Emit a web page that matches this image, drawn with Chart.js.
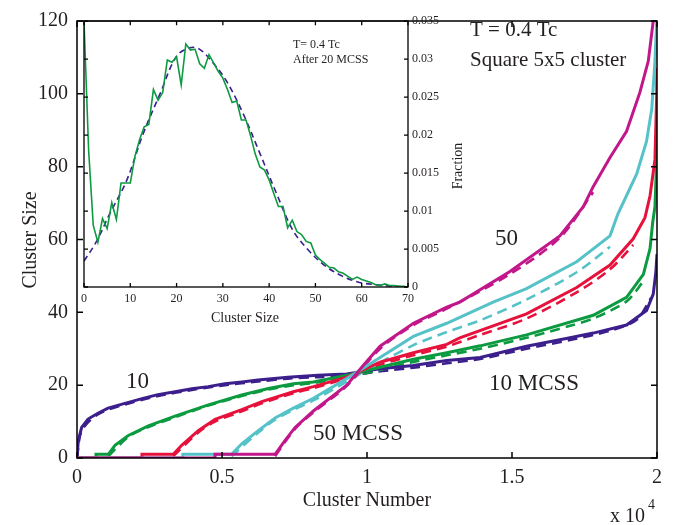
<!DOCTYPE html>
<html lang="en">
<head>
<meta charset="UTF-8">
<title>Cluster Size vs Cluster Number</title>
<script src="https://cdn.jsdelivr.net/npm/chart.js"></script>
<style>
  body { margin: 0; background: #fff; }
  #wrap { position: relative; width: 683px; height: 525px; }
  #main { position: absolute; left: 0; top: 0; }
  #inset { position: absolute; left: 70px; top: 10px; }
</style>
</head>
<body>
<div id="wrap">
  <canvas id="main" width="683" height="525"></canvas>
  <canvas id="inset" width="400" height="330"></canvas>
</div>
<script>
// ---- main chart data: cluster number (x) vs cluster size (y) ----
const purpleN = [0, 45, 160, 380, 720, 1070, 1650, 2240, 2790, 3380, 3960, 4520, 5100, 5690, 6240, 7270, 8300, 9300, 10450, 11590, 12750, 13900, 15500, 17000, 17800, 18950, 19640, 19870, 19960, 20000];
const purpleS = [0, 4.8, 8.4, 10.7, 12.3, 13.7, 15, 16.3, 17.4, 18.2, 19, 19.6, 20.4, 20.9, 21.4, 22.2, 22.7, 23.1, 24.5, 25.4, 26.8, 27.6, 30.7, 33, 34.3, 36.5, 40.5, 45, 51, 56];
const greenN = [0, 655, 655, 1080, 1310, 1770, 2460, 3380, 4530, 5680, 6600, 7460, 8150, 9300, 10450, 11600, 12750, 13900, 15500, 17800, 18950, 19530, 19760, 19850, 19930, 19980, 20000];
const greenS = [0, 0, 1, 1, 3.5, 6.2, 8.8, 11.5, 14.6, 17.3, 19.1, 20.4, 20.9, 22.7, 24.9, 27.1, 28.9, 30.8, 33.8, 39.2, 44.1, 50.4, 57.5, 64.6, 69, 80, 93];
const redN = [0, 2240, 2240, 3320, 3610, 4180, 4760, 5680, 6370, 7460, 8150, 9300, 10450, 11600, 12750, 13200, 15500, 17230, 18380, 19180, 19585, 19760, 19930, 19990, 20000];
const redS = [0, 0, 1, 1, 3.5, 7.5, 10.6, 13.3, 15.5, 18.2, 19.6, 22.2, 26.3, 28.9, 31.2, 33, 39.6, 46.8, 53, 60.2, 66, 72, 82, 100, 107];
const cyanN = [0, 3650, 3650, 5330, 5680, 6250, 6830, 7460, 8150, 9300, 10450, 11600, 12750, 13200, 14350, 15500, 17230, 18380, 18650, 19300, 19640, 19820, 19930, 19990];
const cyanS = [0, 0, 1, 1, 3.9, 7.5, 11, 13.7, 16.4, 21.8, 27.6, 33.4, 37, 38.6, 42.8, 46.5, 53.9, 61, 67, 78, 87, 95.9, 109, 120];
const magentaN = [0, 4760, 4760, 6830, 7170, 7520, 8150, 9300, 9870, 10450, 11600, 12750, 13200, 14930, 16650, 17460, 17800, 18380, 18950, 19410, 19700, 19870];
const magentaS = [0, 0, 1, 1, 4.8, 8.4, 12.9, 20, 25.4, 30.7, 37, 41.4, 42.8, 51.2, 61, 69, 74.5, 82.5, 89.7, 100.4, 109, 120];

// dashed fits
const purpleFitN = [0, 160, 720, 1650, 2790, 3960, 5100, 6240, 7270, 8300, 9300, 10450, 11600, 12750, 13900, 15500, 17000, 18400, 19300, 19800];
const purpleFitS = [0, 7.5, 12, 14.7, 17, 18.7, 20, 21, 21.8, 22.2, 22.6, 23.8, 24.8, 26, 27.2, 30, 32.4, 35, 38, 44];
const greenFitN = [1080, 1770, 2460, 3380, 4530, 5680, 6600, 7460, 8150, 9300, 10450, 11600, 12750, 13900, 15500, 17000, 17800, 18950, 19530];
const greenFitS = [0.5, 5.8, 8.5, 11.2, 14.4, 17, 18.8, 20, 20.6, 22.2, 24.2, 26.4, 28.2, 30, 33, 36.3, 38.3, 43, 48.5];
const redFitN = [3320, 4180, 4760, 5680, 6370, 7460, 8150, 9300, 10450, 11600, 12750, 13900, 15500, 17230, 18380, 19180];
const redFitS = [0.5, 7, 10, 12.8, 15, 17.8, 19.2, 22, 25.6, 28.2, 30.6, 33.8, 38.3, 45.5, 51.8, 58.5];
const cyanFitN = [5330, 6250, 6830, 7460, 8150, 9300, 10450, 11600, 12750, 13900, 15500, 17230, 18380];
const cyanFitS = [0.5, 7, 10.5, 13.2, 15.8, 21, 26.2, 31, 34.6, 37.8, 43.5, 51, 58];
const magentaFitN = [6830, 7520, 8150, 9300, 10450, 11600, 12750, 14930, 16650, 17800];
const magentaFitS = [0.5, 8, 12.5, 19.8, 30, 36.5, 41, 50.5, 60.5, 73];

// ---- inset data: fraction vs cluster size after 20 MCSS ----
const insetSize = [];
for (let i = 0; i <= 70; i++) insetSize.push(i);
const insetFrac = [0.035, 0.018, 0.0081, 0.0059, 0.009, 0.0077, 0.0111, 0.0089, 0.0137, 0.0137,
  0.0137, 0.0172, 0.0194, 0.0211, 0.0214, 0.026, 0.0246, 0.0256, 0.0299, 0.0296,
  0.0303, 0.0266, 0.032, 0.0312, 0.0313, 0.0294, 0.0288, 0.0306, 0.0295, 0.0284,
  0.0275, 0.026, 0.0243, 0.0245, 0.022, 0.022, 0.0199, 0.0175, 0.0158, 0.0154,
  0.0141, 0.0123, 0.0106, 0.0106, 0.0078, 0.0088, 0.0073, 0.0069, 0.006, 0.0058,
  0.0042, 0.0036, 0.0031, 0.0026, 0.0025, 0.002, 0.0018, 0.0014, 0.001, 0.0013,
  0.001, 0.0008, 0.0006, 0.0003, 0.0002, 0.0004, 0.0002, 0.0002, 0.0001, 0.0001, 0];
const insetFitSize = [0, 2.7, 5.6, 9.2, 12.8, 16.4, 20, 22.9, 25, 27.9, 30.8, 34.4, 38, 41.6, 45.1, 48.7, 52.3, 55.9, 59.5, 63.1, 66.7, 70];
const insetFitFrac = [0.0034, 0.006, 0.0097, 0.014, 0.0202, 0.0254, 0.0304, 0.0315, 0.0313, 0.0295, 0.0271, 0.0228, 0.0176, 0.0123, 0.0075, 0.0047, 0.0027, 0.0014, 0.0006, 0.0003, 0.0001, 0];

const PURPLE = '#3c1f8c';
const GREEN = '#0c9a40';
const RED = '#e6123c';
const CYAN = '#55c2c8';
const MAGENTA = '#c2178b';
const serif = "'Liberation Serif', 'DejaVu Serif', serif";
const ink = '#231f20';

function pts(xs, ys) {
  return xs.map((x, i) => ({ x: x, y: ys[i] }));
}
function solid(label, xs, ys, color) {
  return { label: label, data: pts(xs, ys), borderColor: color, borderWidth: 3, pointRadius: 0, fill: false, tension: 0 };
}
function dashed(label, xs, ys, color) {
  return { label: label, data: pts(xs, ys), borderColor: color, borderWidth: 2.6, borderDash: [10, 6], pointRadius: 0, fill: false, tension: 0.3 };
}

// box + inward tick marks
const boxTicks = {
  id: 'boxTicks',
  beforeDraw(chart, args, opts) {
    if (!opts.fill) return;
    const a = chart.chartArea;
    chart.ctx.save();
    chart.ctx.fillStyle = opts.fill;
    chart.ctx.fillRect(a.left, a.top, a.right - a.left, a.bottom - a.top);
    chart.ctx.restore();
  },
  afterDraw(chart, args, opts) {
    const ctx = chart.ctx, a = chart.chartArea, sx = chart.scales.x, sy = chart.scales.y;
    const len = opts.len;
    ctx.save();
    ctx.strokeStyle = '#000';
    ctx.lineWidth = opts.width;
    ctx.strokeRect(a.left, a.top, a.right - a.left, a.bottom - a.top);
    ctx.beginPath();
    sx.ticks.forEach(t => {
      const x = sx.getPixelForValue(t.value);
      ctx.moveTo(x, a.bottom); ctx.lineTo(x, a.bottom - len);
      ctx.moveTo(x, a.top); ctx.lineTo(x, a.top + len);
    });
    sy.ticks.forEach(t => {
      const y = sy.getPixelForValue(t.value);
      ctx.moveTo(a.left, y); ctx.lineTo(a.left + len, y);
      ctx.moveTo(a.right, y); ctx.lineTo(a.right - len, y);
    });
    ctx.stroke();
    ctx.restore();
  }
};

// free text labels
const texts = {
  id: 'texts',
  afterDraw(chart, args, opts) {
    const ctx = chart.ctx;
    ctx.save();
    ctx.fillStyle = ink;
    opts.items.forEach(it => {
      ctx.save();
      ctx.font = it.size + 'px ' + serif;
      ctx.textAlign = it.align || 'left';
      ctx.textBaseline = it.base || 'alphabetic';
      ctx.translate(it.x, it.y);
      if (it.rot) ctx.rotate(it.rot);
      ctx.fillText(it.t, 0, 0);
      ctx.restore();
    });
    ctx.restore();
  }
};

new Chart(document.getElementById('main'), {
  type: 'line',
  data: {
    datasets: [
      solid('50 MCSS', magentaN, magentaS, MAGENTA),
      solid('40 MCSS', cyanN, cyanS, CYAN),
      solid('30 MCSS', redN, redS, RED),
      solid('20 MCSS', greenN, greenS, GREEN),
      solid('10 MCSS', purpleN, purpleS, PURPLE),
      dashed('50 MCSS fit', magentaFitN, magentaFitS, MAGENTA),
      dashed('40 MCSS fit', cyanFitN, cyanFitS, CYAN),
      dashed('30 MCSS fit', redFitN, redFitS, RED),
      dashed('20 MCSS fit', greenFitN, greenFitS, GREEN),
      dashed('10 MCSS fit', purpleFitN, purpleFitS, PURPLE)
    ]
  },
  options: {
    responsive: false,
    animation: false,
    layout: { padding: { top: 10, right: 26, left: 0, bottom: 0 } },
    plugins: {
      legend: { display: false },
      tooltip: { enabled: false },
      boxTicks: { len: 6, width: 1.5 },
      texts: {
        items: [
          { t: 'Cluster Size', x: 31, y: 240, size: 20, rot: -Math.PI / 2, align: 'center', base: 'middle' },
          { t: 'Cluster Number', x: 367, y: 501, size: 20, align: 'center', base: 'middle' },
          { t: 'x 10', x: 610, y: 522, size: 20 },
          { t: '4', x: 648, y: 509, size: 14 },
          { t: 'T = 0.4 Tc', x: 470, y: 36, size: 21 },
          { t: 'Square 5x5 cluster', x: 470, y: 66, size: 21 },
          { t: '50', x: 495, y: 245, size: 23 },
          { t: '10', x: 126, y: 388, size: 23 },
          { t: '10 MCSS', x: 489, y: 390, size: 23 },
          { t: '50 MCSS', x: 313, y: 440, size: 23 }
        ]
      }
    },
    scales: {
      x: {
        type: 'linear', min: 0, max: 20000,
        grid: { display: false, drawTicks: false },
        border: { display: false },
        ticks: { stepSize: 5000, maxRotation: 0, padding: 8, color: ink, font: { family: serif, size: 20 },
          callback: v => String(v / 10000) },
        afterFit: s => { s.height = 67; }
      },
      y: {
        min: 0, max: 120,
        grid: { display: false, drawTicks: false },
        border: { display: false },
        ticks: { stepSize: 20, padding: 9, color: ink, font: { family: serif, size: 20 } },
        afterFit: s => { s.width = 77; }
      }
    }
  },
  plugins: [boxTicks, texts]
});

new Chart(document.getElementById('inset'), {
  type: 'line',
  data: {
    datasets: [
      { label: 'After 20 MCSS', data: pts(insetSize, insetFrac), borderColor: GREEN, borderWidth: 1.6, pointRadius: 0, fill: false, tension: 0 },
      { label: 'fit', data: pts(insetFitSize, insetFitFrac), borderColor: PURPLE, borderWidth: 1.6, borderDash: [6, 4], pointRadius: 0, fill: false, tension: 0.35 }
    ]
  },
  options: {
    responsive: false,
    animation: false,
    layout: { padding: { top: 10, left: 14, right: 0, bottom: 0 } },
    plugins: {
      legend: { display: false },
      tooltip: { enabled: false },
      boxTicks: { len: 4, width: 1.3, fill: '#fff' },
      texts: {
        items: [
          { t: 'Cluster Size', x: 175, y: 308, size: 14, align: 'center', base: 'middle' },
          { t: 'Fraction', x: 388, y: 156, size: 14, rot: -Math.PI / 2, align: 'center', base: 'middle' },
          { t: 'T= 0.4 Tc', x: 223, y: 38, size: 12 },
          { t: 'After 20 MCSS', x: 223, y: 53, size: 12 }
        ]
      }
    },
    scales: {
      x: {
        type: 'linear', min: 0, max: 70,
        grid: { display: false, drawTicks: false },
        border: { display: false },
        ticks: { stepSize: 10, maxRotation: 0, padding: 5, color: ink, font: { family: serif, size: 12 } },
        afterFit: s => { s.height = 53; }
      },
      y: {
        position: 'right',
        min: 0, max: 0.035,
        grid: { display: false, drawTicks: false },
        border: { display: false },
        ticks: { stepSize: 0.005, padding: 4, color: ink, font: { family: serif, size: 12 },
          callback: v => String(Number(v.toFixed(3))) },
        afterFit: s => { s.width = 62; }
      }
    }
  },
  plugins: [boxTicks, texts]
});
</script>
</body>
</html>
